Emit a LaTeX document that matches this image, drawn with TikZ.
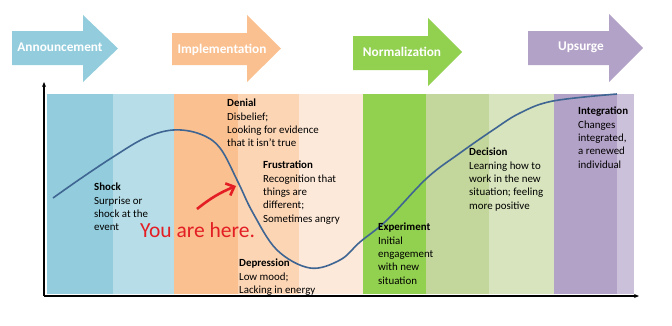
\documentclass[tikz,border=0pt]{standalone}
\usepackage{fontspec}
\setmainfont{Carlito}
\usetikzlibrary{arrows.meta}
\definecolor{cA}{HTML}{93CDDD}
\definecolor{cAl}{HTML}{B7DEE8}
\definecolor{cI}{HTML}{FAC090}
\definecolor{cIl}{HTML}{FCD5B5}
\definecolor{cIll}{HTML}{FDE9D9}
\definecolor{cN}{HTML}{92D050}
\definecolor{cNl}{HTML}{C3D69B}
\definecolor{cNll}{HTML}{D7E4BD}
\definecolor{cU}{HTML}{B3A2C7}
\definecolor{cUl}{HTML}{CCC1DA}
\definecolor{curvec}{HTML}{3F6593}
\definecolor{redc}{HTML}{E31E24}
\tikzset{
  phase/.style={text=white,font=\fontsize{13.3}{15}\selectfont\bfseries,inner sep=0pt},
  desc/.style={anchor=north west,inner sep=0pt,align=left,font=\fontsize{10.9}{13.3}\selectfont},
  axisline/.style={line width=1.2pt,-{Stealth[length=5pt,width=4pt]}},
}
\newcommand{\phasearrow}[8]{% x0 xb xt bodytop bodybot headtop headbot colour
  \fill[#8] (#1,#4) -- (#2,#4) -- (#2,#6) -- (#3,{(#6+#7)/2}) -- (#2,#7) -- (#2,#5) -- (#1,#5) -- cycle;}
\begin{document}
\begin{tikzpicture}[x=1pt,y=-1pt]
\useasboundingbox (0,0) rectangle (672,325);
% phase arrows
\phasearrow{12}{83}{118}{31}{65}{15}{82}{cA}
\phasearrow{172}{247}{281}{33}{65}{15}{82}{cI}
\phasearrow{353}{428}{462}{36}{70}{18}{86}{cN}
\phasearrow{528}{609}{643}{31}{65}{14}{82}{cU}
\node[phase] (ann) at (60,47) {Announcement};
\node[phase] (imp) at (222,50) {Implementation};
\node[phase] (nor) at (402,52) {Normalization};
\node[phase] (ups) at (581,47) {Upsurge};
% bands
\fill[cA]   (47,94) rectangle (113,294);
\fill[cAl]  (113,94) rectangle (174,294);
\fill[cI]   (174,94) rectangle (238,294);
\fill[cIl]  (238,94) rectangle (299,294);
\fill[cIll] (299,94) rectangle (363,294);
\fill[cN]   (363,94) rectangle (426,294);
\fill[cNl]  (426,94) rectangle (489,294);
\fill[cNll] (489,94) rectangle (554,294);
\fill[cU]   (554,94) rectangle (617,294);
\fill[cUl]  (617,94) rectangle (634,294);
% axes
\coordinate (o) at (44,296);
\coordinate (ytop) at (44,82);
\coordinate (xend) at (639,296);
\draw[axisline] (o) -- (ytop);
\draw[axisline] (o) -- (xend);
% curve
\draw[curvec,line width=1.6pt] plot[smooth,tension=0.6] coordinates {
 (53,198) (80,179) (113,157) (145,138) (173,130) (200,134) (220,148) (238,182)
 (253,213) (277,250) (310,268) (340,260) (360,242) (387,220) (427,178)
 (460,153) (493,130) (520,113) (553,101) (617,94)};
% descriptions
\node[desc] (shock) at (94,183) {\textbf{Shock}\\Surprise or\\shock at the\\event};
\node[desc] (denial) at (227,99) {\textbf{Denial}\\Disbelief;\\Looking for evidence\\that it isn’t true};
\node[desc] (frus) at (263,161) {\textbf{Frustration}\\Recognition that\\things are\\different;\\Sometimes angry};
\node[desc] (dep) at (239,259) {\textbf{Depression}\\Low mood;\\Lacking in energy};
\node[desc] (exp) at (378,223) {\textbf{Experiment}\\Initial\\engagement\\with new\\situation};
\node[desc] (dec) at (469,148) {\textbf{Decision}\\Learning how to\\work in the new\\situation; feeling\\more positive};
\node[desc] (int) at (578,107) {\textbf{Integration}\\Changes\\integrated,\\a renewed\\individual};
% you are here
\node[text=redc,font=\fontsize{21.5}{24}\selectfont,anchor=base west,inner sep=0pt] (here) at (140,237) {You are here.};
\coordinate (rs) at (197,209);
\coordinate (re) at (236,186);
\draw[redc,line width=2.6pt,-{Straight Barb[length=7pt,width=13pt]}] (rs) to[bend left=8] (re);
\end{tikzpicture}
\end{document}
